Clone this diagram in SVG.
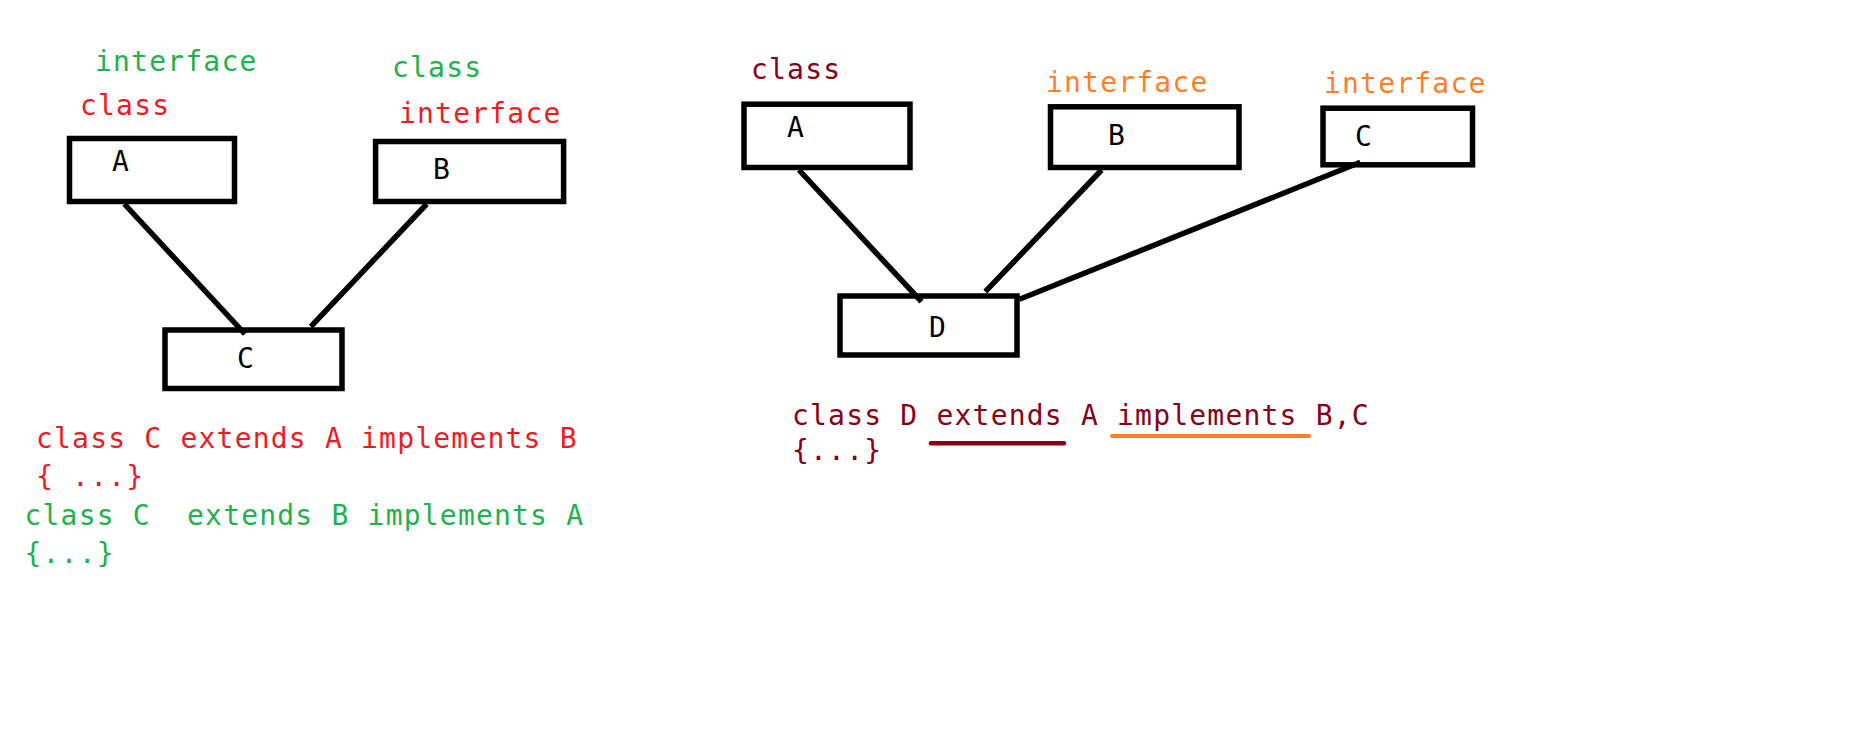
<svg xmlns="http://www.w3.org/2000/svg" width="1852" height="743" viewBox="0 0 1852 743">
<style>
text{font-family:"DejaVu Sans Mono","Liberation Mono",monospace;font-size:28px;letter-spacing:1.2px;white-space:pre}
.g{fill:#22b14c}.r{fill:#ed1c24}.dr{fill:#880015}.o{fill:#ff7f27}.k{fill:#000}
.box{fill:none;stroke:#000;stroke-width:5.5}
.ln{stroke:#000;stroke-width:5.5;fill:none}
</style>
<rect width="1852" height="743" fill="#fff"/>
<g id="left-A"><rect class="box" x="69.5" y="138.5" width="165" height="63"/><text class="k" x="112" y="171">A</text></g>
<g id="left-B"><rect class="box" x="375.6" y="141.5" width="188" height="60"/><text class="k" x="433" y="179">B</text></g>
<g id="left-C"><rect class="box" x="165" y="330" width="177" height="58.5"/><text class="k" x="237" y="368">C</text></g>
<g id="right-A"><rect class="box" x="744" y="104.2" width="166" height="63.3"/><text class="k" x="787" y="137">A</text></g>
<g id="right-B"><rect class="box" x="1050.5" y="106.8" width="188.5" height="60.7"/><text class="k" x="1108" y="145">B</text></g>
<g id="right-C"><rect class="box" x="1323" y="108.2" width="149.5" height="56.6"/><text class="k" x="1355" y="146">C</text></g>
<g id="right-D"><rect class="box" x="840" y="296" width="177" height="59"/><text class="k" x="929" y="337">D</text></g>
<g id="connectors">
<line class="ln" x1="124.4" y1="204" x2="245" y2="334"/>
<line class="ln" x1="426.7" y1="204" x2="310.8" y2="326.7"/>
<line class="ln" x1="799" y1="170" x2="921.5" y2="301.7"/>
<line class="ln" x1="1101.6" y1="170" x2="985.3" y2="291.7"/>
<line class="ln" x1="1360.3" y1="162.3" x2="1019.5" y2="299.3"/>
</g>
<g id="labels">
<text class="g" x="95" y="70.7">interface</text>
<text class="r" x="80" y="115">class</text>
<text class="g" x="392" y="77.3">class</text>
<text class="r" x="399" y="122.7">interface</text>
<text class="r" x="36" y="448.3">class C extends A implements B</text>
<text class="r" x="36" y="486">{ ...}</text>
<text class="g" x="24.5" y="525">class C  extends B implements A</text>
<text class="g" x="24.5" y="562.7">{...}</text>
<text class="dr" x="751" y="79.3">class</text>
<text class="o" x="1046" y="92.3">interface</text>
<text class="o" x="1324" y="93.3">interface</text>
<text class="dr" x="792" y="425">class D extends A implements B,C</text>
<text class="dr" x="792" y="460">{...}</text>
<line x1="931" y1="443.3" x2="1064" y2="443.3" stroke="#880015" stroke-width="4.5" stroke-linecap="round"/>
<line x1="1112" y1="436" x2="1309" y2="436" stroke="#ff7f27" stroke-width="4" stroke-linecap="round"/>
</g>
</svg>
